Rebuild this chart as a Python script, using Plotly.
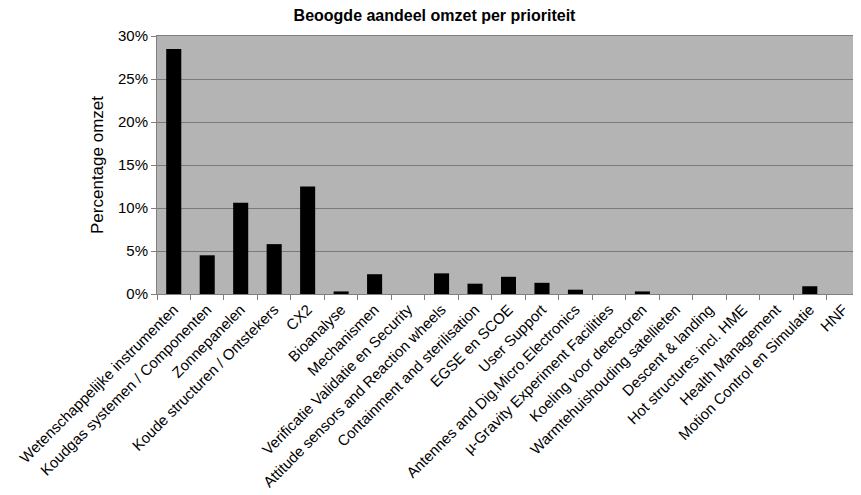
import plotly.graph_objects as go

categories = [
    "Wetenschappelijke instrumenten",
    "Koudgas systemen / Componenten",
    "Zonnepanelen",
    "Koude structuren / Ontstekers",
    "CX2",
    "Bioanalyse",
    "Mechanismen",
    "Verificatie Validatie en Security",
    "Attitude sensors and Reaction wheels",
    "Containment and sterilisation",
    "EGSE en SCOE",
    "User Support",
    "Antennes and Dig.Micro.Electronics",
    "µ-Gravity Experiment Facilities",
    "Koeling voor detectoren",
    "Warmtehuishouding satellieten",
    "Descent & landing",
    "Hot structures incl. HME",
    "Health Management",
    "Motion Control en Simulatie",
    "HNF",
]
values = [0.285, 0.045, 0.106, 0.058, 0.125, 0.003, 0.023, 0.0, 0.024, 0.012,
          0.020, 0.013, 0.005, 0.0, 0.003, 0.0, 0.0, 0.0, 0.0, 0.009, 0.0]
ytick_vals = [0, 0.05, 0.10, 0.15, 0.20, 0.25, 0.30]
ytick_text = ["0%", "5%", "10%", "15%", "20%", "25%", "30%"]

fig = go.Figure(go.Bar(
    x=categories, y=values,
    marker=dict(color="#000000", line=dict(width=0)),
    width=0.45,
))

fig.update_layout(
    width=853, height=487,
    margin=dict(l=149, r=1, t=28, b=201),
    paper_bgcolor="white",
    plot_bgcolor="#b4b4b4",
    font=dict(family="Liberation Sans, Arial, sans-serif", color="#000000"),
    title=dict(text="<b>Beoogde aandeel omzet per prioriteit</b>",
               x=0.5, xanchor="center", y=0.984, yanchor="middle",
               font=dict(size=16)),
    showlegend=False,
)
fig.update_xaxes(
    tickangle=-45, tickfont=dict(size=15),
    tickson="boundaries", ticks="outside", ticklen=5, tickcolor="#808080",
    showline=True, linecolor="#808080", linewidth=1, mirror=True,
    showgrid=False, automargin=False,
)
fig.update_yaxes(
    range=[0, 0.30], tickvals=ytick_vals, ticktext=ytick_text,
    tickfont=dict(size=15), ticks="outside", ticklen=5, tickcolor="#808080",
    showline=True, linecolor="#808080", linewidth=1, mirror=True,
    showgrid=True, gridcolor="#7a7a7a", gridwidth=1,
    zeroline=False, automargin=False,
    title=dict(text="Percentage omzet", font=dict(size=17), standoff=10),
)

fig.write_html("out.html")
